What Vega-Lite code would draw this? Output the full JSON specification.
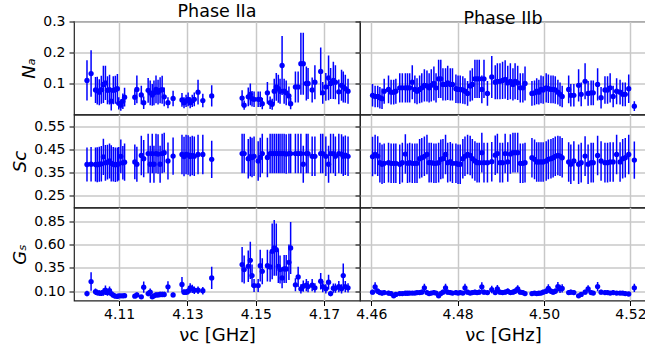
{
  "$schema": "https://vega.github.io/schema/vega-lite/v6.json",
  "padding": {"left": 11, "top": 1.5, "right": 0, "bottom": 0},
  "config": {
    "font": "DejaVu Sans",
    "view": {"stroke": "#222222", "strokeWidth": 1.2},
    "axis": {"labelFontSize": 14, "titleFontSize": 18, "labelColor": "black", "titleColor": "black", "tickColor": "black", "tickSize": 5, "labelPadding": 4, "titlePadding": 4, "gridColor": "#c8c8c8", "gridWidth": 1.5, "domain": false, "titleFontWeight": "normal"},
    "title": {"fontSize": 17.5, "fontWeight": "normal", "color": "black", "offset": -6, "anchor": "middle"}
  },
  "data": {"values": [
    {"p":"IIa","nu":4.1006,"Na":0.110,"NaE":0.065,"Sc":0.385,"ScE":0.073,"Gs":0.075,"GsE":0.03},
    {"p":"IIa","nu":4.1018,"Na":0.132,"NaE":0.075,"Sc":0.386,"ScE":0.074,"Gs":0.204,"GsE":0.10},
    {"p":"IIa","nu":4.1031,"Na":0.079,"NaE":0.042,"Sc":0.385,"ScE":0.073,"Gs":0.094,"GsE":0.035},
    {"p":"IIa","nu":4.1036,"Na":0.077,"NaE":0.045,"Sc":0.384,"ScE":0.075,"Gs":0.085,"GsE":0.03},
    {"p":"IIa","nu":4.1042,"Na":0.072,"NaE":0.042,"Sc":0.386,"ScE":0.075,"Gs":0.080,"GsE":0.03},
    {"p":"IIa","nu":4.1048,"Na":0.080,"NaE":0.045,"Sc":0.388,"ScE":0.076,"Gs":0.078,"GsE":0.03},
    {"p":"IIa","nu":4.1054,"Na":0.097,"NaE":0.060,"Sc":0.418,"ScE":0.078,"Gs":0.090,"GsE":0.04},
    {"p":"IIa","nu":4.1060,"Na":0.102,"NaE":0.055,"Sc":0.392,"ScE":0.077,"Gs":0.110,"GsE":0.05},
    {"p":"IIa","nu":4.1066,"Na":0.078,"NaE":0.045,"Sc":0.395,"ScE":0.075,"Gs":0.085,"GsE":0.035},
    {"p":"IIa","nu":4.1072,"Na":0.080,"NaE":0.048,"Sc":0.400,"ScE":0.075,"Gs":0.105,"GsE":0.045},
    {"p":"IIa","nu":4.1077,"Na":0.043,"NaE":0.030,"Sc":0.390,"ScE":0.078,"Gs":0.075,"GsE":0.03},
    {"p":"IIa","nu":4.1083,"Na":0.078,"NaE":0.045,"Sc":0.386,"ScE":0.074,"Gs":0.057,"GsE":0.025},
    {"p":"IIa","nu":4.1089,"Na":0.080,"NaE":0.045,"Sc":0.384,"ScE":0.074,"Gs":0.046,"GsE":0.02},
    {"p":"IIa","nu":4.1095,"Na":0.083,"NaE":0.048,"Sc":0.385,"ScE":0.073,"Gs":0.045,"GsE":0.02},
    {"p":"IIa","nu":4.1099,"Na":0.036,"NaE":0.020,"Sc":0.388,"ScE":0.072,"Gs":0.050,"GsE":0.02},
    {"p":"IIa","nu":4.1105,"Na":0.030,"NaE":0.018,"Sc":0.420,"ScE":0.073,"Gs":0.050,"GsE":0.02},
    {"p":"IIa","nu":4.1111,"Na":0.043,"NaE":0.025,"Sc":0.392,"ScE":0.072,"Gs":0.050,"GsE":0.02},
    {"p":"IIa","nu":4.1116,"Na":0.056,"NaE":0.030,"Sc":0.395,"ScE":0.080,"Gs":0.052,"GsE":0.02},
    {"p":"IIa","nu":4.1146,"Na":0.056,"NaE":0.025,"Sc":0.396,"ScE":0.075,"Gs":0.046,"GsE":0.02},
    {"p":"IIa","nu":4.1152,"Na":0.081,"NaE":0.045,"Sc":0.386,"ScE":0.075,"Gs":0.060,"GsE":0.025},
    {"p":"IIa","nu":4.1165,"Na":0.063,"NaE":0.030,"Sc":0.424,"ScE":0.085,"Gs":0.040,"GsE":0.02},
    {"p":"IIa","nu":4.1172,"Na":0.038,"NaE":0.020,"Sc":0.410,"ScE":0.080,"Gs":0.143,"GsE":0.06},
    {"p":"IIa","nu":4.1185,"Na":0.078,"NaE":0.040,"Sc":0.432,"ScE":0.085,"Gs":0.075,"GsE":0.03},
    {"p":"IIa","nu":4.1191,"Na":0.070,"NaE":0.040,"Sc":0.386,"ScE":0.080,"Gs":0.090,"GsE":0.04},
    {"p":"IIa","nu":4.1197,"Na":0.063,"NaE":0.035,"Sc":0.432,"ScE":0.085,"Gs":0.040,"GsE":0.02},
    {"p":"IIa","nu":4.1202,"Na":0.070,"NaE":0.040,"Sc":0.386,"ScE":0.080,"Gs":0.050,"GsE":0.02},
    {"p":"IIa","nu":4.1208,"Na":0.081,"NaE":0.045,"Sc":0.432,"ScE":0.085,"Gs":0.060,"GsE":0.025},
    {"p":"IIa","nu":4.1214,"Na":0.072,"NaE":0.040,"Sc":0.430,"ScE":0.085,"Gs":0.060,"GsE":0.025},
    {"p":"IIa","nu":4.1220,"Na":0.078,"NaE":0.042,"Sc":0.386,"ScE":0.080,"Gs":0.065,"GsE":0.03},
    {"p":"IIa","nu":4.1226,"Na":0.080,"NaE":0.045,"Sc":0.432,"ScE":0.085,"Gs":0.065,"GsE":0.03},
    {"p":"IIa","nu":4.1232,"Na":0.057,"NaE":0.030,"Sc":0.436,"ScE":0.085,"Gs":0.065,"GsE":0.03},
    {"p":"IIa","nu":4.1243,"Na":0.038,"NaE":0.018,"Sc":0.400,"ScE":0.080,"Gs":0.147,"GsE":0.06},
    {"p":"IIa","nu":4.1258,"Na":0.052,"NaE":0.025,"Sc":0.421,"ScE":0.080,"Gs":0.060,"GsE":0.025},
    {"p":"IIa","nu":4.1284,"Na":0.047,"NaE":0.022,"Sc":0.428,"ScE":0.085,"Gs":0.172,"GsE":0.08},
    {"p":"IIa","nu":4.1290,"Na":0.038,"NaE":0.018,"Sc":0.419,"ScE":0.085,"Gs":0.090,"GsE":0.03},
    {"p":"IIa","nu":4.1296,"Na":0.044,"NaE":0.020,"Sc":0.428,"ScE":0.085,"Gs":0.090,"GsE":0.03},
    {"p":"IIa","nu":4.1302,"Na":0.049,"NaE":0.022,"Sc":0.426,"ScE":0.085,"Gs":0.100,"GsE":0.035},
    {"p":"IIa","nu":4.1308,"Na":0.038,"NaE":0.018,"Sc":0.419,"ScE":0.085,"Gs":0.136,"GsE":0.05},
    {"p":"IIa","nu":4.1314,"Na":0.044,"NaE":0.020,"Sc":0.424,"ScE":0.085,"Gs":0.125,"GsE":0.045},
    {"p":"IIa","nu":4.1320,"Na":0.049,"NaE":0.022,"Sc":0.420,"ScE":0.085,"Gs":0.110,"GsE":0.04},
    {"p":"IIa","nu":4.1331,"Na":0.072,"NaE":0.040,"Sc":0.428,"ScE":0.085,"Gs":0.110,"GsE":0.04},
    {"p":"IIa","nu":4.1345,"Na":0.045,"NaE":0.022,"Sc":0.428,"ScE":0.085,"Gs":0.105,"GsE":0.04},
    {"p":"IIa","nu":4.1371,"Na":0.060,"NaE":0.034,"Sc":0.407,"ScE":0.080,"Gs":0.243,"GsE":0.12},
    {"p":"IIa","nu":4.1460,"Na":0.053,"NaE":0.025,"Sc":0.432,"ScE":0.085,"Gs":0.386,"GsE":0.19},
    {"p":"IIa","nu":4.1466,"Na":0.030,"NaE":0.015,"Sc":0.432,"ScE":0.085,"Gs":0.333,"GsE":0.15},
    {"p":"IIa","nu":4.1478,"Na":0.057,"NaE":0.030,"Sc":0.410,"ScE":0.085,"Gs":0.368,"GsE":0.17},
    {"p":"IIa","nu":4.1484,"Na":0.065,"NaE":0.035,"Sc":0.419,"ScE":0.085,"Gs":0.432,"GsE":0.20},
    {"p":"IIa","nu":4.1489,"Na":0.051,"NaE":0.025,"Sc":0.415,"ScE":0.085,"Gs":0.268,"GsE":0.12},
    {"p":"IIa","nu":4.1495,"Na":0.049,"NaE":0.025,"Sc":0.420,"ScE":0.085,"Gs":0.161,"GsE":0.07},
    {"p":"IIa","nu":4.1507,"Na":0.049,"NaE":0.025,"Sc":0.400,"ScE":0.085,"Gs":0.161,"GsE":0.07},
    {"p":"IIa","nu":4.1513,"Na":0.049,"NaE":0.025,"Sc":0.415,"ScE":0.085,"Gs":0.375,"GsE":0.17},
    {"p":"IIa","nu":4.1519,"Na":0.035,"NaE":0.018,"Sc":0.432,"ScE":0.085,"Gs":0.314,"GsE":0.14},
    {"p":"IIa","nu":4.1534,"Na":0.070,"NaE":0.035,"Sc":0.415,"ScE":0.085,"Gs":0.375,"GsE":0.17},
    {"p":"IIa","nu":4.1542,"Na":0.038,"NaE":0.020,"Sc":0.432,"ScE":0.085,"Gs":0.361,"GsE":0.16},
    {"p":"IIa","nu":4.1548,"Na":0.033,"NaE":0.018,"Sc":0.432,"ScE":0.085,"Gs":0.529,"GsE":0.30},
    {"p":"IIa","nu":4.1554,"Na":0.075,"NaE":0.040,"Sc":0.432,"ScE":0.085,"Gs":0.565,"GsE":0.30},
    {"p":"IIa","nu":4.1560,"Na":0.089,"NaE":0.045,"Sc":0.432,"ScE":0.085,"Gs":0.547,"GsE":0.28},
    {"p":"IIa","nu":4.1566,"Na":0.083,"NaE":0.045,"Sc":0.432,"ScE":0.085,"Gs":0.368,"GsE":0.18},
    {"p":"IIa","nu":4.1571,"Na":0.075,"NaE":0.040,"Sc":0.432,"ScE":0.085,"Gs":0.333,"GsE":0.15},
    {"p":"IIa","nu":4.1577,"Na":0.158,"NaE":0.095,"Sc":0.432,"ScE":0.085,"Gs":0.243,"GsE":0.11},
    {"p":"IIa","nu":4.1583,"Na":0.075,"NaE":0.040,"Sc":0.432,"ScE":0.085,"Gs":0.339,"GsE":0.15},
    {"p":"IIa","nu":4.1589,"Na":0.070,"NaE":0.040,"Sc":0.430,"ScE":0.085,"Gs":0.339,"GsE":0.15},
    {"p":"IIa","nu":4.1597,"Na":0.060,"NaE":0.030,"Sc":0.432,"ScE":0.085,"Gs":0.411,"GsE":0.19},
    {"p":"IIa","nu":4.1602,"Na":0.035,"NaE":0.018,"Sc":0.432,"ScE":0.085,"Gs":0.565,"GsE":0.28},
    {"p":"IIa","nu":4.1616,"Na":0.089,"NaE":0.050,"Sc":0.432,"ScE":0.085,"Gs":0.169,"GsE":0.07},
    {"p":"IIa","nu":4.1624,"Na":0.089,"NaE":0.050,"Sc":0.432,"ScE":0.085,"Gs":0.254,"GsE":0.11},
    {"p":"IIa","nu":4.1632,"Na":0.164,"NaE":0.100,"Sc":0.432,"ScE":0.085,"Gs":0.126,"GsE":0.05},
    {"p":"IIa","nu":4.1639,"Na":0.164,"NaE":0.100,"Sc":0.386,"ScE":0.080,"Gs":0.154,"GsE":0.06},
    {"p":"IIa","nu":4.1648,"Na":0.100,"NaE":0.055,"Sc":0.432,"ScE":0.085,"Gs":0.165,"GsE":0.065},
    {"p":"IIa","nu":4.1653,"Na":0.100,"NaE":0.050,"Sc":0.432,"ScE":0.085,"Gs":0.150,"GsE":0.06},
    {"p":"IIa","nu":4.1665,"Na":0.079,"NaE":0.040,"Sc":0.420,"ScE":0.085,"Gs":0.165,"GsE":0.065},
    {"p":"IIa","nu":4.1673,"Na":0.104,"NaE":0.055,"Sc":0.420,"ScE":0.085,"Gs":0.136,"GsE":0.05},
    {"p":"IIa","nu":4.1690,"Na":0.139,"NaE":0.077,"Sc":0.432,"ScE":0.085,"Gs":0.207,"GsE":0.09},
    {"p":"IIa","nu":4.1696,"Na":0.070,"NaE":0.035,"Sc":0.432,"ScE":0.085,"Gs":0.150,"GsE":0.06},
    {"p":"IIa","nu":4.1705,"Na":0.089,"NaE":0.045,"Sc":0.420,"ScE":0.085,"Gs":0.126,"GsE":0.05},
    {"p":"IIa","nu":4.1713,"Na":0.118,"NaE":0.072,"Sc":0.386,"ScE":0.080,"Gs":0.197,"GsE":0.08},
    {"p":"IIa","nu":4.1719,"Na":0.100,"NaE":0.050,"Sc":0.432,"ScE":0.085,"Gs":0.075,"GsE":0.03},
    {"p":"IIa","nu":4.1727,"Na":0.110,"NaE":0.060,"Sc":0.432,"ScE":0.085,"Gs":0.132,"GsE":0.05},
    {"p":"IIa","nu":4.1733,"Na":0.104,"NaE":0.055,"Sc":0.420,"ScE":0.085,"Gs":0.132,"GsE":0.05},
    {"p":"IIa","nu":4.1743,"Na":0.073,"NaE":0.040,"Sc":0.432,"ScE":0.085,"Gs":0.150,"GsE":0.06},
    {"p":"IIa","nu":4.1751,"Na":0.094,"NaE":0.050,"Sc":0.430,"ScE":0.085,"Gs":0.126,"GsE":0.05},
    {"p":"IIa","nu":4.1756,"Na":0.089,"NaE":0.050,"Sc":0.420,"ScE":0.085,"Gs":0.268,"GsE":0.13},
    {"p":"IIa","nu":4.1762,"Na":0.083,"NaE":0.045,"Sc":0.425,"ScE":0.085,"Gs":0.150,"GsE":0.06},
    {"p":"IIa","nu":4.1770,"Na":0.075,"NaE":0.040,"Sc":0.420,"ScE":0.085,"Gs":0.136,"GsE":0.05},
    {"p":"IIb","nu":4.4603,"Na":0.062,"NaE":0.036,"Sc":0.419,"ScE":0.085,"Gs":0.090,"GsE":0.025},
    {"p":"IIb","nu":4.4609,"Na":0.058,"NaE":0.035,"Sc":0.428,"ScE":0.085,"Gs":0.147,"GsE":0.05},
    {"p":"IIb","nu":4.4615,"Na":0.058,"NaE":0.035,"Sc":0.421,"ScE":0.085,"Gs":0.100,"GsE":0.03},
    {"p":"IIb","nu":4.4620,"Na":0.054,"NaE":0.035,"Sc":0.393,"ScE":0.085,"Gs":0.085,"GsE":0.025},
    {"p":"IIb","nu":4.4625,"Na":0.051,"NaE":0.033,"Sc":0.386,"ScE":0.085,"Gs":0.080,"GsE":0.025},
    {"p":"IIb","nu":4.4630,"Na":0.075,"NaE":0.040,"Sc":0.390,"ScE":0.085,"Gs":0.085,"GsE":0.025},
    {"p":"IIb","nu":4.4640,"Na":0.081,"NaE":0.045,"Sc":0.393,"ScE":0.085,"Gs":0.080,"GsE":0.025},
    {"p":"IIb","nu":4.4646,"Na":0.072,"NaE":0.040,"Sc":0.390,"ScE":0.085,"Gs":0.075,"GsE":0.02},
    {"p":"IIb","nu":4.4652,"Na":0.072,"NaE":0.040,"Sc":0.390,"ScE":0.085,"Gs":0.050,"GsE":0.02},
    {"p":"IIb","nu":4.4657,"Na":0.075,"NaE":0.040,"Sc":0.390,"ScE":0.085,"Gs":0.065,"GsE":0.02},
    {"p":"IIb","nu":4.4666,"Na":0.086,"NaE":0.047,"Sc":0.386,"ScE":0.085,"Gs":0.075,"GsE":0.02},
    {"p":"IIb","nu":4.4672,"Na":0.086,"NaE":0.047,"Sc":0.393,"ScE":0.085,"Gs":0.075,"GsE":0.02},
    {"p":"IIb","nu":4.4679,"Na":0.086,"NaE":0.047,"Sc":0.430,"ScE":0.085,"Gs":0.078,"GsE":0.02},
    {"p":"IIb","nu":4.4684,"Na":0.086,"NaE":0.047,"Sc":0.390,"ScE":0.085,"Gs":0.078,"GsE":0.02},
    {"p":"IIb","nu":4.4689,"Na":0.086,"NaE":0.047,"Sc":0.393,"ScE":0.085,"Gs":0.080,"GsE":0.02},
    {"p":"IIb","nu":4.4695,"Na":0.104,"NaE":0.055,"Sc":0.390,"ScE":0.085,"Gs":0.080,"GsE":0.02},
    {"p":"IIb","nu":4.4701,"Na":0.081,"NaE":0.045,"Sc":0.390,"ScE":0.085,"Gs":0.080,"GsE":0.02},
    {"p":"IIb","nu":4.4706,"Na":0.075,"NaE":0.042,"Sc":0.390,"ScE":0.085,"Gs":0.085,"GsE":0.02},
    {"p":"IIb","nu":4.4712,"Na":0.081,"NaE":0.045,"Sc":0.410,"ScE":0.085,"Gs":0.085,"GsE":0.025},
    {"p":"IIb","nu":4.4717,"Na":0.086,"NaE":0.047,"Sc":0.414,"ScE":0.085,"Gs":0.090,"GsE":0.025},
    {"p":"IIb","nu":4.4723,"Na":0.094,"NaE":0.052,"Sc":0.420,"ScE":0.085,"Gs":0.136,"GsE":0.045},
    {"p":"IIb","nu":4.4729,"Na":0.092,"NaE":0.050,"Sc":0.428,"ScE":0.085,"Gs":0.085,"GsE":0.025},
    {"p":"IIb","nu":4.4734,"Na":0.086,"NaE":0.047,"Sc":0.393,"ScE":0.085,"Gs":0.075,"GsE":0.02},
    {"p":"IIb","nu":4.4739,"Na":0.094,"NaE":0.052,"Sc":0.393,"ScE":0.085,"Gs":0.080,"GsE":0.02},
    {"p":"IIb","nu":4.4745,"Na":0.100,"NaE":0.055,"Sc":0.390,"ScE":0.085,"Gs":0.085,"GsE":0.025},
    {"p":"IIb","nu":4.4750,"Na":0.086,"NaE":0.047,"Sc":0.390,"ScE":0.085,"Gs":0.080,"GsE":0.02},
    {"p":"IIb","nu":4.4756,"Na":0.115,"NaE":0.062,"Sc":0.393,"ScE":0.085,"Gs":0.050,"GsE":0.02},
    {"p":"IIb","nu":4.4761,"Na":0.115,"NaE":0.062,"Sc":0.407,"ScE":0.085,"Gs":0.075,"GsE":0.02},
    {"p":"IIb","nu":4.4766,"Na":0.097,"NaE":0.052,"Sc":0.410,"ScE":0.085,"Gs":0.090,"GsE":0.025},
    {"p":"IIb","nu":4.4772,"Na":0.097,"NaE":0.052,"Sc":0.428,"ScE":0.085,"Gs":0.136,"GsE":0.045},
    {"p":"IIb","nu":4.4777,"Na":0.102,"NaE":0.055,"Sc":0.393,"ScE":0.085,"Gs":0.090,"GsE":0.025},
    {"p":"IIb","nu":4.4783,"Na":0.097,"NaE":0.052,"Sc":0.397,"ScE":0.085,"Gs":0.085,"GsE":0.025},
    {"p":"IIb","nu":4.4788,"Na":0.097,"NaE":0.052,"Sc":0.390,"ScE":0.085,"Gs":0.080,"GsE":0.02},
    {"p":"IIb","nu":4.4796,"Na":0.083,"NaE":0.046,"Sc":0.390,"ScE":0.085,"Gs":0.085,"GsE":0.025},
    {"p":"IIb","nu":4.4801,"Na":0.081,"NaE":0.045,"Sc":0.386,"ScE":0.085,"Gs":0.080,"GsE":0.02},
    {"p":"IIb","nu":4.4806,"Na":0.081,"NaE":0.045,"Sc":0.386,"ScE":0.085,"Gs":0.085,"GsE":0.025},
    {"p":"IIb","nu":4.4812,"Na":0.079,"NaE":0.044,"Sc":0.410,"ScE":0.085,"Gs":0.080,"GsE":0.02},
    {"p":"IIb","nu":4.4817,"Na":0.075,"NaE":0.042,"Sc":0.420,"ScE":0.085,"Gs":0.136,"GsE":0.045},
    {"p":"IIb","nu":4.4823,"Na":0.068,"NaE":0.040,"Sc":0.428,"ScE":0.085,"Gs":0.090,"GsE":0.025},
    {"p":"IIb","nu":4.4829,"Na":0.092,"NaE":0.050,"Sc":0.424,"ScE":0.085,"Gs":0.080,"GsE":0.02},
    {"p":"IIb","nu":4.4834,"Na":0.097,"NaE":0.052,"Sc":0.410,"ScE":0.085,"Gs":0.085,"GsE":0.025},
    {"p":"IIb","nu":4.4840,"Na":0.115,"NaE":0.062,"Sc":0.400,"ScE":0.085,"Gs":0.090,"GsE":0.025},
    {"p":"IIb","nu":4.4845,"Na":0.115,"NaE":0.062,"Sc":0.393,"ScE":0.085,"Gs":0.085,"GsE":0.025},
    {"p":"IIb","nu":4.4850,"Na":0.115,"NaE":0.062,"Sc":0.393,"ScE":0.085,"Gs":0.090,"GsE":0.025},
    {"p":"IIb","nu":4.4856,"Na":0.081,"NaE":0.045,"Sc":0.436,"ScE":0.085,"Gs":0.147,"GsE":0.05},
    {"p":"IIb","nu":4.4861,"Na":0.115,"NaE":0.062,"Sc":0.393,"ScE":0.085,"Gs":0.090,"GsE":0.025},
    {"p":"IIb","nu":4.4869,"Na":0.068,"NaE":0.040,"Sc":0.393,"ScE":0.085,"Gs":0.085,"GsE":0.025},
    {"p":"IIb","nu":4.4879,"Na":0.121,"NaE":0.068,"Sc":0.397,"ScE":0.085,"Gs":0.118,"GsE":0.04},
    {"p":"IIb","nu":4.4887,"Na":0.104,"NaE":0.055,"Sc":0.425,"ScE":0.085,"Gs":0.085,"GsE":0.025},
    {"p":"IIb","nu":4.4892,"Na":0.107,"NaE":0.058,"Sc":0.432,"ScE":0.085,"Gs":0.126,"GsE":0.04},
    {"p":"IIb","nu":4.4898,"Na":0.107,"NaE":0.058,"Sc":0.393,"ScE":0.085,"Gs":0.090,"GsE":0.025},
    {"p":"IIb","nu":4.4904,"Na":0.110,"NaE":0.060,"Sc":0.393,"ScE":0.085,"Gs":0.085,"GsE":0.025},
    {"p":"IIb","nu":4.4910,"Na":0.113,"NaE":0.062,"Sc":0.432,"ScE":0.085,"Gs":0.090,"GsE":0.025},
    {"p":"IIb","nu":4.4916,"Na":0.102,"NaE":0.055,"Sc":0.396,"ScE":0.085,"Gs":0.100,"GsE":0.03},
    {"p":"IIb","nu":4.4922,"Na":0.107,"NaE":0.058,"Sc":0.430,"ScE":0.085,"Gs":0.085,"GsE":0.025},
    {"p":"IIb","nu":4.4928,"Na":0.097,"NaE":0.052,"Sc":0.436,"ScE":0.085,"Gs":0.090,"GsE":0.025},
    {"p":"IIb","nu":4.4933,"Na":0.107,"NaE":0.058,"Sc":0.436,"ScE":0.085,"Gs":0.100,"GsE":0.03},
    {"p":"IIb","nu":4.4939,"Na":0.102,"NaE":0.055,"Sc":0.436,"ScE":0.085,"Gs":0.125,"GsE":0.04},
    {"p":"IIb","nu":4.4945,"Na":0.086,"NaE":0.047,"Sc":0.390,"ScE":0.085,"Gs":0.090,"GsE":0.025},
    {"p":"IIb","nu":4.4951,"Na":0.086,"NaE":0.047,"Sc":0.390,"ScE":0.085,"Gs":0.085,"GsE":0.025},
    {"p":"IIb","nu":4.4956,"Na":0.100,"NaE":0.055,"Sc":0.393,"ScE":0.085,"Gs":0.075,"GsE":0.02},
    {"p":"IIb","nu":4.4972,"Na":0.068,"NaE":0.040,"Sc":0.414,"ScE":0.085,"Gs":0.075,"GsE":0.02},
    {"p":"IIb","nu":4.4978,"Na":0.070,"NaE":0.040,"Sc":0.407,"ScE":0.085,"Gs":0.080,"GsE":0.02},
    {"p":"IIb","nu":4.4983,"Na":0.075,"NaE":0.042,"Sc":0.396,"ScE":0.085,"Gs":0.075,"GsE":0.02},
    {"p":"IIb","nu":4.4988,"Na":0.072,"NaE":0.040,"Sc":0.396,"ScE":0.085,"Gs":0.078,"GsE":0.02},
    {"p":"IIb","nu":4.4993,"Na":0.081,"NaE":0.045,"Sc":0.396,"ScE":0.085,"Gs":0.080,"GsE":0.02},
    {"p":"IIb","nu":4.4998,"Na":0.079,"NaE":0.044,"Sc":0.396,"ScE":0.085,"Gs":0.090,"GsE":0.025},
    {"p":"IIb","nu":4.5005,"Na":0.086,"NaE":0.047,"Sc":0.400,"ScE":0.085,"Gs":0.100,"GsE":0.03},
    {"p":"IIb","nu":4.5010,"Na":0.083,"NaE":0.046,"Sc":0.407,"ScE":0.085,"Gs":0.130,"GsE":0.045},
    {"p":"IIb","nu":4.5016,"Na":0.081,"NaE":0.045,"Sc":0.410,"ScE":0.085,"Gs":0.100,"GsE":0.03},
    {"p":"IIb","nu":4.5021,"Na":0.081,"NaE":0.045,"Sc":0.414,"ScE":0.085,"Gs":0.090,"GsE":0.025},
    {"p":"IIb","nu":4.5026,"Na":0.079,"NaE":0.044,"Sc":0.420,"ScE":0.085,"Gs":0.100,"GsE":0.03},
    {"p":"IIb","nu":4.5032,"Na":0.072,"NaE":0.040,"Sc":0.424,"ScE":0.085,"Gs":0.150,"GsE":0.05},
    {"p":"IIb","nu":4.5037,"Na":0.065,"NaE":0.038,"Sc":0.421,"ScE":0.085,"Gs":0.125,"GsE":0.045},
    {"p":"IIb","nu":4.5042,"Na":0.058,"NaE":0.035,"Sc":0.414,"ScE":0.085,"Gs":0.130,"GsE":0.045},
    {"p":"IIb","nu":4.5057,"Na":0.081,"NaE":0.045,"Sc":0.396,"ScE":0.085,"Gs":0.085,"GsE":0.025},
    {"p":"IIb","nu":4.5062,"Na":0.062,"NaE":0.036,"Sc":0.386,"ScE":0.085,"Gs":0.090,"GsE":0.025},
    {"p":"IIb","nu":4.5069,"Na":0.062,"NaE":0.036,"Sc":0.400,"ScE":0.085,"Gs":0.085,"GsE":0.025},
    {"p":"IIb","nu":4.5080,"Na":0.094,"NaE":0.052,"Sc":0.386,"ScE":0.085,"Gs":0.050,"GsE":0.02},
    {"p":"IIb","nu":4.5086,"Na":0.065,"NaE":0.038,"Sc":0.393,"ScE":0.085,"Gs":0.065,"GsE":0.02},
    {"p":"IIb","nu":4.5095,"Na":0.107,"NaE":0.058,"Sc":0.421,"ScE":0.085,"Gs":0.090,"GsE":0.025},
    {"p":"IIb","nu":4.5102,"Na":0.068,"NaE":0.040,"Sc":0.386,"ScE":0.085,"Gs":0.125,"GsE":0.04},
    {"p":"IIb","nu":4.5109,"Na":0.070,"NaE":0.040,"Sc":0.393,"ScE":0.085,"Gs":0.085,"GsE":0.025},
    {"p":"IIb","nu":4.5114,"Na":0.070,"NaE":0.040,"Sc":0.393,"ScE":0.085,"Gs":0.080,"GsE":0.02},
    {"p":"IIb","nu":4.5124,"Na":0.097,"NaE":0.052,"Sc":0.424,"ScE":0.085,"Gs":0.150,"GsE":0.05},
    {"p":"IIb","nu":4.5132,"Na":0.054,"NaE":0.035,"Sc":0.400,"ScE":0.085,"Gs":0.090,"GsE":0.025},
    {"p":"IIb","nu":4.5141,"Na":0.079,"NaE":0.044,"Sc":0.393,"ScE":0.085,"Gs":0.085,"GsE":0.025},
    {"p":"IIb","nu":4.5147,"Na":0.079,"NaE":0.044,"Sc":0.393,"ScE":0.085,"Gs":0.085,"GsE":0.025},
    {"p":"IIb","nu":4.5153,"Na":0.086,"NaE":0.047,"Sc":0.396,"ScE":0.085,"Gs":0.080,"GsE":0.02},
    {"p":"IIb","nu":4.5160,"Na":0.058,"NaE":0.035,"Sc":0.396,"ScE":0.085,"Gs":0.085,"GsE":0.025},
    {"p":"IIb","nu":4.5168,"Na":0.075,"NaE":0.042,"Sc":0.428,"ScE":0.085,"Gs":0.080,"GsE":0.02},
    {"p":"IIb","nu":4.5176,"Na":0.072,"NaE":0.040,"Sc":0.396,"ScE":0.085,"Gs":0.080,"GsE":0.02},
    {"p":"IIb","nu":4.5182,"Na":0.065,"NaE":0.038,"Sc":0.410,"ScE":0.085,"Gs":0.080,"GsE":0.02},
    {"p":"IIb","nu":4.5188,"Na":0.065,"NaE":0.038,"Sc":0.414,"ScE":0.085,"Gs":0.075,"GsE":0.02},
    {"p":"IIb","nu":4.5196,"Na":0.083,"NaE":0.046,"Sc":0.428,"ScE":0.085,"Gs":0.070,"GsE":0.02},
    {"p":"IIb","nu":4.5209,"Na":0.027,"NaE":0.016,"Sc":0.404,"ScE":0.080,"Gs":0.136,"GsE":0.045}
  ]},
  "columns": 2,
  "spacing": 0,
  "bounds": "flush",
  "concat": [
    {
      "width": 286, "height": 93,
      "title": "Phase IIa",
      "transform": [{"filter": "datum.p === 'IIa'"}],
      "encoding": {
        "x": {"field": "nu", "type": "quantitative", "scale": {"domain": [4.0968, 4.1805], "nice": false, "zero": false}, "axis": {"values": [4.11, 4.13, 4.15, 4.17], "labels": false, "title": null}},
        "y": {"field": "Na", "type": "quantitative", "scale": {"domain": [0, 0.3], "nice": false, "zero": false}, "axis": {"values": [0.1, 0.2, 0.3], "format": ".1f", "title": "Nₐ", "titleFontStyle": "italic"}}
      },
      "layer": [
        {"mark": {"type": "errorbar", "ticks": false, "color": "#0000ff", "thickness": 1.5, "clip": true}, "encoding": {"yError": {"field": "NaE"}}},
        {"mark": {"type": "point", "filled": true, "color": "#0000ff", "size": 28, "opacity": 1, "clip": true}}
      ]
    },
    {
      "width": 286, "height": 93,
      "title": "Phase IIb",
      "transform": [{"filter": "datum.p === 'IIb'"}],
      "encoding": {
        "x": {"field": "nu", "type": "quantitative", "scale": {"domain": [4.4574, 4.5236], "nice": false, "zero": false}, "axis": {"values": [4.46, 4.48, 4.50, 4.52], "labels": false, "title": null}},
        "y": {"field": "Na", "type": "quantitative", "scale": {"domain": [0, 0.3], "nice": false, "zero": false}, "axis": {"values": [0.1, 0.2, 0.3], "labels": false, "title": null}}
      },
      "layer": [
        {"mark": {"type": "errorbar", "ticks": false, "color": "#0000ff", "thickness": 1.5, "clip": true}, "encoding": {"yError": {"field": "NaE"}}},
        {"mark": {"type": "point", "filled": true, "color": "#0000ff", "size": 28, "opacity": 1, "clip": true}}
      ]
    },
    {
      "width": 286, "height": 93,
      "transform": [{"filter": "datum.p === 'IIa'"}],
      "encoding": {
        "x": {"field": "nu", "type": "quantitative", "scale": {"domain": [4.0968, 4.1805], "nice": false, "zero": false}, "axis": {"values": [4.11, 4.13, 4.15, 4.17], "labels": false, "title": null}},
        "y": {"field": "Sc", "type": "quantitative", "scale": {"domain": [0.2, 0.6], "nice": false, "zero": false}, "axis": {"values": [0.25, 0.35, 0.45, 0.55], "format": ".2f", "title": "Sc", "titleFontStyle": "italic"}}
      },
      "layer": [
        {"mark": {"type": "errorbar", "ticks": false, "color": "#0000ff", "thickness": 1.5, "clip": true}, "encoding": {"yError": {"field": "ScE"}}},
        {"mark": {"type": "point", "filled": true, "color": "#0000ff", "size": 28, "opacity": 1, "clip": true}}
      ]
    },
    {
      "width": 286, "height": 93,
      "transform": [{"filter": "datum.p === 'IIb'"}],
      "encoding": {
        "x": {"field": "nu", "type": "quantitative", "scale": {"domain": [4.4574, 4.5236], "nice": false, "zero": false}, "axis": {"values": [4.46, 4.48, 4.50, 4.52], "labels": false, "title": null}},
        "y": {"field": "Sc", "type": "quantitative", "scale": {"domain": [0.2, 0.6], "nice": false, "zero": false}, "axis": {"values": [0.25, 0.35, 0.45, 0.55], "labels": false, "title": null}}
      },
      "layer": [
        {"mark": {"type": "errorbar", "ticks": false, "color": "#0000ff", "thickness": 1.5, "clip": true}, "encoding": {"yError": {"field": "ScE"}}},
        {"mark": {"type": "point", "filled": true, "color": "#0000ff", "size": 28, "opacity": 1, "clip": true}}
      ]
    },
    {
      "width": 286, "height": 93,
      "transform": [{"filter": "datum.p === 'IIa'"}],
      "encoding": {
        "x": {"field": "nu", "type": "quantitative", "scale": {"domain": [4.0968, 4.1805], "nice": false, "zero": false}, "axis": {"values": [4.11, 4.13, 4.15, 4.17], "format": ".2f", "title": "νc [GHz]", "labelPadding": 2, "titlePadding": 5}},
        "y": {"field": "Gs", "type": "quantitative", "scale": {"domain": [0, 1.0], "nice": false, "zero": false}, "axis": {"values": [0.1, 0.35, 0.6, 0.85], "format": ".2f", "title": "Gₛ", "titleFontStyle": "italic"}}
      },
      "layer": [
        {"mark": {"type": "errorbar", "ticks": false, "color": "#0000ff", "thickness": 1.5, "clip": true}, "encoding": {"yError": {"field": "GsE"}}},
        {"mark": {"type": "point", "filled": true, "color": "#0000ff", "size": 28, "opacity": 1, "clip": true}}
      ]
    },
    {
      "width": 286, "height": 93,
      "transform": [{"filter": "datum.p === 'IIb'"}],
      "encoding": {
        "x": {"field": "nu", "type": "quantitative", "scale": {"domain": [4.4574, 4.5236], "nice": false, "zero": false}, "axis": {"values": [4.46, 4.48, 4.50, 4.52], "format": ".2f", "title": "νc [GHz]", "labelPadding": 2, "titlePadding": 5}},
        "y": {"field": "Gs", "type": "quantitative", "scale": {"domain": [0, 1.0], "nice": false, "zero": false}, "axis": {"values": [0.1, 0.35, 0.6, 0.85], "labels": false, "title": null}}
      },
      "layer": [
        {"mark": {"type": "errorbar", "ticks": false, "color": "#0000ff", "thickness": 1.5, "clip": true}, "encoding": {"yError": {"field": "GsE"}}},
        {"mark": {"type": "point", "filled": true, "color": "#0000ff", "size": 28, "opacity": 1, "clip": true}}
      ]
    }
  ]
}
